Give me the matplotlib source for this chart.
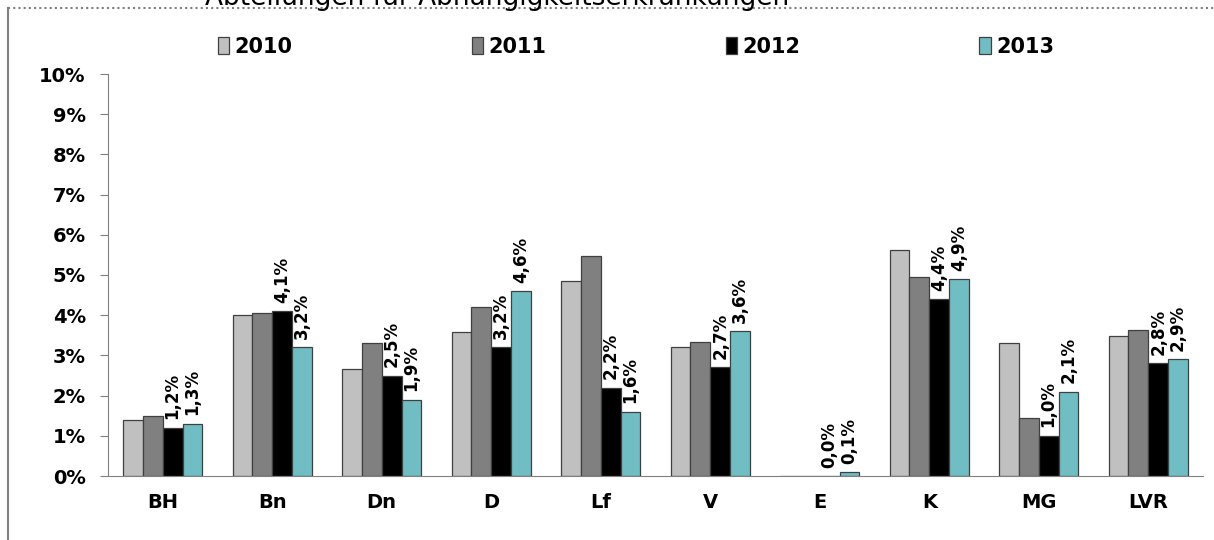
import numpy as np
import matplotlib.pyplot as plt
from matplotlib.lines import Line2D

categories = ['BH', 'Bn', 'Dn', 'D', 'Lf', 'V', 'E', 'K', 'MG', 'LVR']
years = ['2010', '2011', '2012', '2013']
v2010 = [1.39, 4.00, 2.66, 3.58, 4.85, 3.20, 0.0, 5.62, 3.30, 3.48]
v2011 = [1.49, 4.05, 3.30, 4.20, 5.47, 3.33, 0.0, 4.95, 1.44, 3.63]
v2012 = [1.2, 4.1, 2.5, 3.2, 2.2, 2.7, 0.0, 4.4, 1.0, 2.8]
v2013 = [1.3, 3.2, 1.9, 4.6, 1.6, 3.6, 0.1, 4.9, 2.1, 2.9]
yticks = [0, 1, 2, 3, 4, 5, 6, 7, 8, 9, 10]

colors = ['#c0c0c0', '#808080', '#000000', '#70bec4']
series = [v2010, v2011, v2012, v2013]

fig = plt.figure(figsize=(12.14, 5.4), dpi=100)
ax = fig.add_axes([108 / 1214, 1 - 476 / 540, 1095 / 1214, 402 / 540])

x = np.arange(len(categories))
w = 0.181
handles = []
for i, (vals, col) in enumerate(zip(series, colors)):
    pos = x + (i - 1.5) * w
    bars = ax.bar(pos, vals, width=w, color=col, edgecolor='#404040', linewidth=0.9,
                  label=years[i])
    handles.append(bars)
    # value labels only on the last two years
    if i >= 2:
        for px, v in zip(pos, vals):
            ax.annotate(f'{v:.1f}%'.replace('.', ','), (px, v), xytext=(0, 6),
                        textcoords='offset points', rotation=90, ha='center',
                        va='bottom', fontsize=12, fontweight='bold')

ax.set_xlim(-0.5, len(categories) - 0.5)
ax.set_ylim(0, 10)
ax.set_yticks(yticks)
ax.set_yticklabels([f'{t}%' for t in yticks], fontsize=14, fontweight='bold')
ax.set_xticks(x)
ax.set_xticklabels(categories, fontsize=14, fontweight='bold')
ax.tick_params(axis='x', length=0, pad=12)
ax.tick_params(axis='y', length=6, color='#808080', pad=10)
for s in ['top', 'right']:
    ax.spines[s].set_visible(False)
for s in ['left', 'bottom']:
    ax.spines[s].set_color('#808080')

fig.legend(handles=handles, labels=years, loc='center', bbox_to_anchor=(636 / 1214, 1 - 47 / 540),
           ncol=4, frameon=False, prop={'weight': 'bold', 'size': 15},
           handlelength=0.55, handleheight=0.9, handletextpad=0.25, columnspacing=8.6)

# chart frame: dotted top rule and solid left rule
fig.add_artist(Line2D([8 / 1214, 1], [1 - 8 / 540] * 2, color='#808080', lw=1.5,
                      linestyle=(0, (1, 1.5))))
fig.add_artist(Line2D([8 / 1214] * 2, [0, 1 - 8 / 540], color='#808080', lw=1.5))

fig.text(497 / 1214, 1 - 5 / 540, 'Abteilungen für Abhängigkeitserkrankungen',
         ha='center', va='baseline', fontsize=19)

fig.savefig('out.png', dpi=100)
